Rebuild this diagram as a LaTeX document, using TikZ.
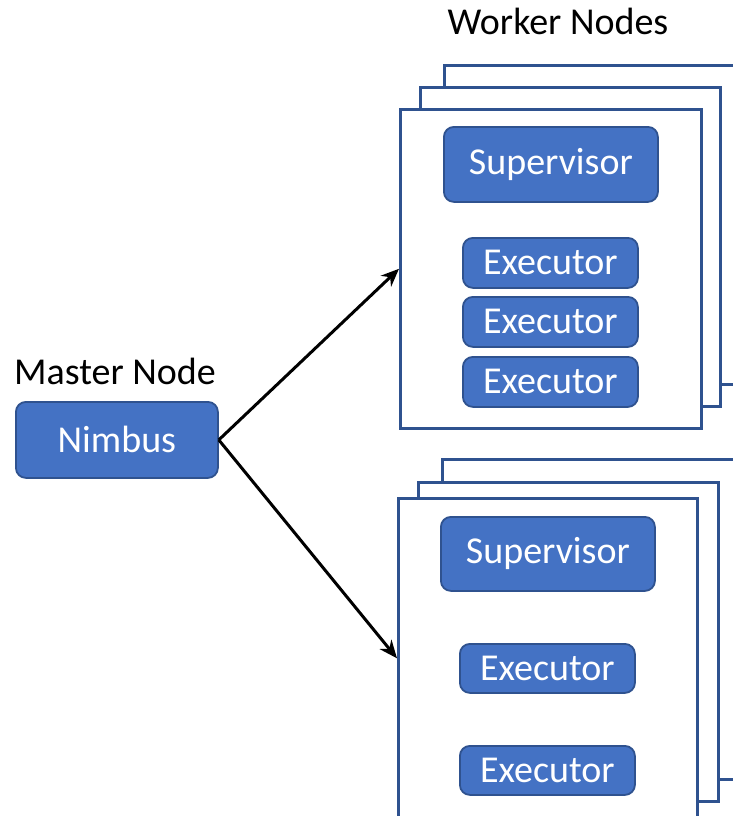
\documentclass[tikz,border=0pt]{standalone}
\usepackage{fontspec}
\setmainfont{Carlito}
\usetikzlibrary{arrows.meta}
\definecolor{boxfill}{HTML}{4472C4}
\definecolor{boxline}{HTML}{2F528F}
\tikzset{
  txt/.style={font=\fontsize{38}{45}\selectfont, inner sep=0pt},
  procbox/.style={txt, draw=boxline, line width=1.8pt, fill=boxfill, text=white,
    rounded corners=10pt, anchor=north west},
  frame/.style={draw=boxline, line width=2.6pt, fill=white, anchor=north west, inner sep=0pt},
  link/.style={line width=3pt, -{Stealth[length=18pt,width=15pt]}}
}
\begin{document}
\begin{tikzpicture}[x=1pt,y=-1pt]
\useasboundingbox (0,0) rectangle (733,816);
\clip (0,0) rectangle (733,816);

% labels
\node[txt] (workers) at (558,21) {Worker Nodes};
\node[txt] (master) at (115,371) {Master Node};

% master
\node[procbox, minimum width=202pt, minimum height=76pt] (nimbus) at (15,401) {Nimbus};

% upper worker stack
\node[frame, minimum width=320pt, minimum height=319pt] (ua3) at (443,64) {};
\node[frame, minimum width=300pt, minimum height=319pt] (ua2) at (419,86) {};
\node[frame, minimum width=301pt, minimum height=319pt] (ua1) at (399,108) {};
\node[procbox, minimum width=214pt, minimum height=75pt] (usup) at (443,126) {Supervisor};
\node[procbox, minimum width=175pt, minimum height=50pt] (uex1) at (462,237) {Executor};
\node[procbox, minimum width=175pt, minimum height=50pt] (uex2) at (462,296) {Executor};
\node[procbox, minimum width=175pt, minimum height=50pt] (uex3) at (462,356) {Executor};

% lower worker stack
\node[frame, minimum width=320pt, minimum height=320pt] (lb3) at (441,458) {};
\node[frame, minimum width=300pt, minimum height=319pt] (lb2) at (417,481) {};
\node[frame, minimum width=299pt, minimum height=320pt] (lb1) at (397,497) {};
\node[procbox, minimum width=214pt, minimum height=74pt] (lsup) at (440,516) {Supervisor};
\node[procbox, minimum width=175pt, minimum height=49pt] (lex1) at (459,643) {Executor};
\node[procbox, minimum width=175pt, minimum height=49pt] (lex2) at (459,745) {Executor};

% connectors
\draw[link] (nimbus.east) -- (ua1.west);
\draw[link] (nimbus.east) -- (lb1.west);
\end{tikzpicture}
\end{document}
